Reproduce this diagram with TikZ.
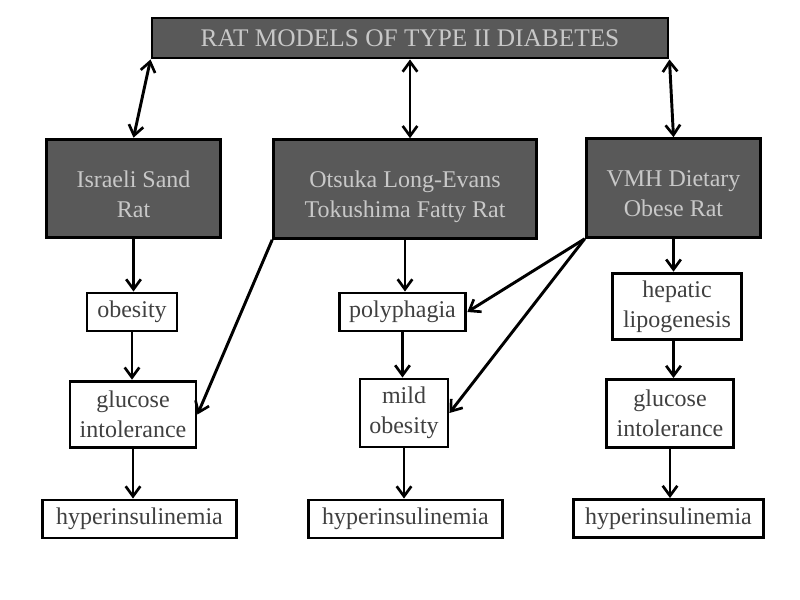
\documentclass[tikz,border=0pt]{standalone}
\usepackage{fontspec}
\setmainfont{Liberation Serif}
\usetikzlibrary{arrows.meta}
\definecolor{ratgray}{RGB}{89,89,89}
\definecolor{rattext}{RGB}{200,200,200}
\definecolor{findtext}{RGB}{64,64,64}
\tikzset{
  ratbox/.style={draw, fill=ratgray, text=rattext, line width=2.2pt, align=center,
    inner sep=0pt, font=\fontsize{18}{22.5}\selectfont},
  ratpair/.style={ratbox, minimum height=74pt, text height=46pt, text depth=3pt},
  findbox/.style={draw, fill=white, text=findtext, line width=2.2pt, align=center,
    inner sep=0pt, font=\fontsize{18}{22.5}\selectfont},
  link/.style={line width=2.2pt, >={Straight Barb[length=7.5pt,width=11pt,line width=2pt]}}
}
\begin{document}
\begin{tikzpicture}[x=0.75pt,y=-0.75pt]
\useasboundingbox (0,0) rectangle (800,600);
% title and the three models
\node [ratbox, minimum width=387pt, minimum height=30pt, font=\fontsize{19}{23}\selectfont]
  (title) at (410,38) {RAT MODELS OF TYPE II DIABETES};
\node [ratpair, minimum width=131pt] (isr) at (133.5,188.5) {Israeli Sand\\Rat};
\node [ratpair, minimum width=197pt] (olet) at (405,189)
  {Otsuka Long-Evans\\Tokushima Fatty Rat};
\node [ratpair, minimum width=131pt] (vmh) at (673.5,188) {VMH Dietary\\Obese Rat};
% findings
\node [findbox, minimum width=67.5pt, minimum height=28.5pt] (obes) at (132,312) {obesity};
\node [findbox, minimum width=95pt, minimum height=28.5pt] (poly) at (402.5,312) {polyphagia};
\node [findbox, minimum width=97pt, minimum height=50pt] (hepa) at (677,306.5)
  {hepatic\\lipogenesis};
\node [findbox, minimum width=94.5pt, minimum height=50pt] (glucl) at (133,414.5)
  {glucose\\intolerance};
\node [findbox, minimum width=66pt, minimum height=51pt] (mild) at (404,413)
  {mild\\obesity};
\node [findbox, minimum width=95pt, minimum height=51pt] (glucr) at (670,413.5)
  {glucose\\intolerance};
\node [findbox, minimum width=145pt, minimum height=28.5pt] (hypl) at (139.5,519) {hyperinsulinemia};
\node [findbox, minimum width=145pt, minimum height=28.5pt] (hypm) at (405.5,519) {hyperinsulinemia};
\node [findbox, minimum width=143pt, minimum height=28.5pt] (hypr) at (668.5,518.5) {hyperinsulinemia};
% connectors
\draw [link, <->] (title.south west) -- (isr.north);
\draw [link, <->] (title.south) -- (title.south |- olet.north);
\draw [link, <->] (title.south east) -- (vmh.north);
\draw [link, ->] (isr.south) -- (isr.south |- obes.north);
\draw [link, ->] (obes.south) -- (obes.south |- glucl.north);
\draw [link, ->] (glucl.south) -- (glucl.south |- hypl.north);
\draw [link, ->] (olet.south) -- (olet.south |- poly.north);
\draw [link, ->] (poly.south) -- (poly.south |- mild.north);
\draw [link, ->] (mild.south) -- (mild.south |- hypm.north);
\draw [link, ->] (vmh.south) -- (vmh.south |- hepa.north);
\draw [link, ->] (vmh.south |- hepa.south) -- (vmh.south |- glucr.north);
\draw [link, ->] (glucr.south) -- (glucr.south |- hypr.north);
\draw [link, ->] (olet.south west) -- (glucl.east);
\draw [link, ->] (vmh.south west) -- (poly.east);
\draw [link, ->] (vmh.south west) -- (mild.east);
\end{tikzpicture}
\end{document}
